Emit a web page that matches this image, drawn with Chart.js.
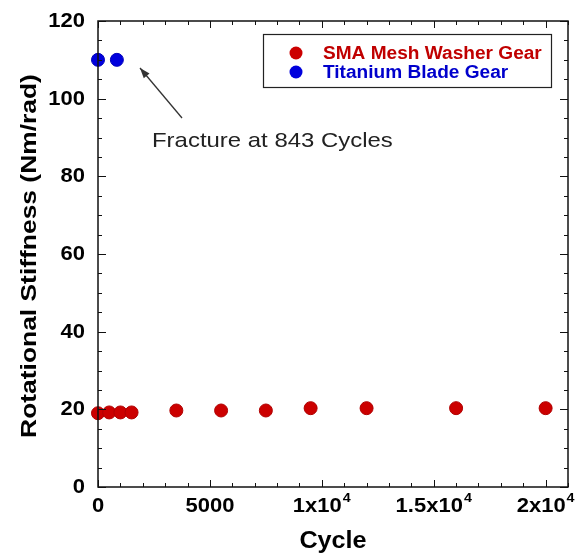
<!DOCTYPE html>
<html>
<head>
<meta charset="utf-8">
<script src="https://cdn.jsdelivr.net/npm/chart.js@4"></script>
<style>
  html, body { margin: 0; padding: 0; background: #fff; }
  #wrap { width: 582px; height: 558px; }
</style>
</head>
<body>
<div id="wrap"><canvas id="stiffChart" width="582" height="558"></canvas></div>
<script>
// --- Data ---
const smaCycles = [0, 500, 1000, 1500, 3500, 5500, 7500, 9500, 12000, 16000, 20000];
const smaStiffness = [19.0, 19.2, 19.2, 19.2, 19.7, 19.7, 19.7, 20.3, 20.3, 20.3, 20.3];
const tiCycles = [0, 843];
const tiStiffness = [110, 110];

const xTickValues = [0, 5000, 10000, 15000, 20000];
const xTickBase = ['0', '5000', '1x10', '1.5x10', '2x10'];
const xTickExp = ['', '', '4', '4', '4'];
const yTickValues = [0, 20, 40, 60, 80, 100, 120];

const seriesNames = ['SMA Mesh Washer Gear', 'Titanium Blade Gear'];
const seriesColors = ['#cc0000', '#0000dd'];
const legendTextColors = ['#c00000', '#0000cc'];

const FONT = 'Arial, "Liberation Sans", sans-serif';

// text with a horizontal stretch factor
function stretchText(ctx, text, x, y, font, sx, align, color) {
    ctx.save();
    ctx.font = font;
    ctx.fillStyle = color || '#000';
    ctx.textBaseline = 'alphabetic';
    const w = ctx.measureText(text).width * sx;
    let left = x;
    if (align === 'center') left = x - w / 2;
    if (align === 'right') left = x - w;
    ctx.translate(left, y);
    ctx.scale(sx, 1);
    ctx.textAlign = 'left';
    ctx.fillText(text, 0, 0);
    ctx.restore();
    return w;
}

// --- Frame, inward ticks, labels, legend, note ---
const framePlugin = {
    id: 'frame',
    afterDraw(chart) {
        const ctx = chart.ctx;
        const xs = chart.scales.x;
        const ys = chart.scales.y;
        const a = chart.chartArea;

        ctx.save();
        ctx.strokeStyle = '#111';
        ctx.lineWidth = 1.5;
        ctx.strokeRect(a.left, a.top, a.right - a.left, a.bottom - a.top);

        ctx.lineWidth = 1;
        ctx.beginPath();
        for (let v = 0; v <= xs.max; v += 1000) {
            const px = Math.round(xs.getPixelForValue(v)) + 0.5;
            const len = v % 5000 === 0 ? 7 : 4;
            ctx.moveTo(px, a.bottom); ctx.lineTo(px, a.bottom - len);
            ctx.moveTo(px, a.top); ctx.lineTo(px, a.top + len);
        }
        for (let v = 0; v <= ys.max; v += 5) {
            const py = Math.round(ys.getPixelForValue(v)) + 0.5;
            const len = v % 20 === 0 ? 8 : 4;
            ctx.moveTo(a.left, py); ctx.lineTo(a.left + len, py);
            ctx.moveTo(a.right, py); ctx.lineTo(a.right - len, py);
        }
        ctx.stroke();

        // y tick labels
        yTickValues.forEach(v => {
            const py = ys.getPixelForValue(v);
            stretchText(ctx, String(v), a.left - 13, py + 6, 'bold 20px ' + FONT, 1.1, 'right');
        });

        // x tick labels with exponent
        xTickValues.forEach((v, i) => {
            const px = xs.getPixelForValue(v);
            ctx.font = 'bold 20px ' + FONT;
            const wBase = ctx.measureText(xTickBase[i]).width * 1.1;
            ctx.font = 'bold 13px ' + FONT;
            const wExp = xTickExp[i] ? ctx.measureText(xTickExp[i]).width * 1.1 + 1 : 0;
            const left = px - (wBase + wExp) / 2;
            stretchText(ctx, xTickBase[i], left, 512, 'bold 20px ' + FONT, 1.1, 'left');
            if (xTickExp[i]) {
                stretchText(ctx, xTickExp[i], left + wBase + 1, 502, 'bold 13px ' + FONT, 1.1, 'left');
            }
        });

        // axis titles
        stretchText(ctx, 'Cycle', (a.left + a.right) / 2, 548, 'bold 24px ' + FONT, 1.05, 'center');
        ctx.save();
        ctx.translate(36, (a.top + a.bottom) / 2 + 2);
        ctx.rotate(-Math.PI / 2);
        stretchText(ctx, 'Rotational Stiffness (Nm/rad)', 0, 0, 'bold 22px ' + FONT, 1.2, 'center');
        ctx.restore();

        // legend box
        ctx.strokeStyle = '#222';
        ctx.lineWidth = 1.2;
        ctx.strokeRect(263.5, 34.5, 288, 53);
        const rows = [53, 72];
        chart.data.datasets.forEach((ds, i) => {
            ctx.beginPath();
            ctx.arc(296, rows[i], 6.5, 0, Math.PI * 2);
            ctx.fillStyle = ds.backgroundColor;
            ctx.fill();
            stretchText(ctx, ds.label, 323, rows[i] + 6, 'bold 18px ' + FONT, 1.06, 'left', legendTextColors[i]);
        });

        // fracture note with arrow
        const tipX = 140, tipY = 68, tailX = 182, tailY = 118;
        ctx.strokeStyle = '#333';
        ctx.fillStyle = '#333';
        ctx.lineWidth = 1.3;
        ctx.beginPath();
        ctx.moveTo(tailX, tailY);
        ctx.lineTo(tipX, tipY);
        ctx.stroke();
        const ang = Math.atan2(tipY - tailY, tipX - tailX);
        ctx.beginPath();
        ctx.moveTo(tipX, tipY);
        ctx.lineTo(tipX - 11 * Math.cos(ang - 0.35), tipY - 11 * Math.sin(ang - 0.35));
        ctx.lineTo(tipX - 11 * Math.cos(ang + 0.35), tipY - 11 * Math.sin(ang + 0.35));
        ctx.closePath();
        ctx.fill();
        stretchText(ctx, 'Fracture at 843 Cycles', 152, 147, '21px ' + FONT, 1.14, 'left', '#222');
        ctx.restore();
    }
};

new Chart(document.getElementById('stiffChart'), {
    type: 'scatter',
    data: {
        datasets: [
            {
                label: seriesNames[0],
                data: smaCycles.map((c, i) => ({ x: c, y: smaStiffness[i] })),
                backgroundColor: seriesColors[0],
                borderColor: '#b00000',
                borderWidth: 1,
                pointRadius: 6.5,
                clip: false
            },
            {
                label: seriesNames[1],
                data: tiCycles.map((c, i) => ({ x: c, y: tiStiffness[i] })),
                backgroundColor: seriesColors[1],
                borderColor: '#0000bb',
                borderWidth: 1,
                pointRadius: 6.5,
                clip: false
            }
        ]
    },
    options: {
        responsive: false,
        animation: false,
        layout: { padding: { left: 98, top: 21, right: 14, bottom: 71 } },
        plugins: { legend: { display: false }, tooltip: { enabled: false } },
        scales: {
            x: { type: 'linear', min: 0, max: 21000, display: false },
            y: { type: 'linear', min: 0, max: 120, display: false }
        }
    },
    plugins: [framePlugin]
});
</script>
</body>
</html>
